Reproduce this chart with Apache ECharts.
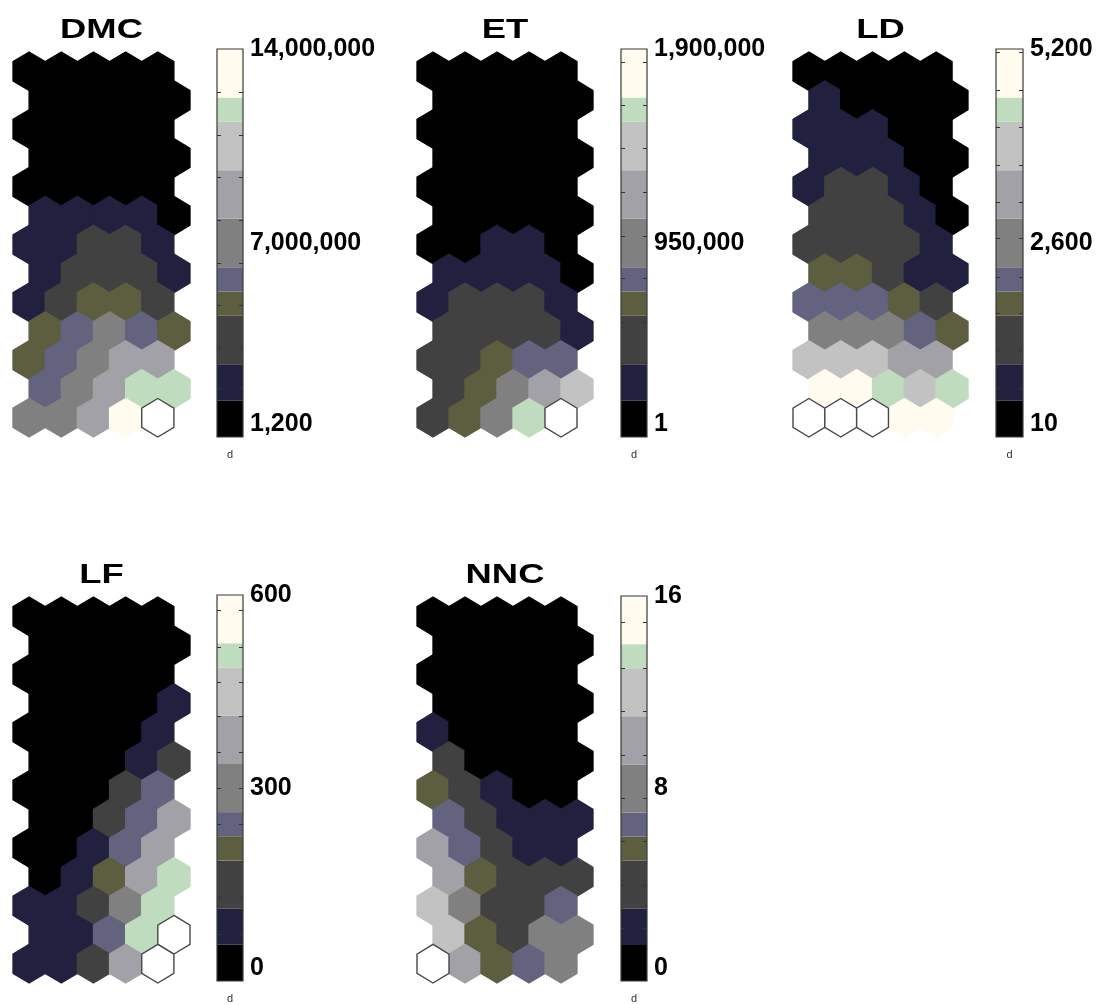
<!DOCTYPE html>
<html><head><meta charset="utf-8">
<script src="https://cdn.jsdelivr.net/npm/echarts@6/dist/echarts.min.js"></script>
<style>html,body{margin:0;padding:0;background:#fff}#c{width:1104px;height:1005px}</style>
</head><body><div id="c"></div>
<script>
const FONT = "'Liberation Sans', Arial, Helvetica, sans-serif";

// ---- component-plane names ----
const panelNames = ['DMC', 'ET', 'LD', 'LF', 'NNC'];

// ---- colorbar ranges, tick values and tick labels ----
const dmcRange = [1200, 14000000];
const etRange = [1, 1900000];
const ldRange = [10, 5200];
const lfRange = [0, 600];
const nncRange = [0, 16];

const dmcLabelValues = [1200, 7000000, 14000000];
const dmcLabels = ['1,200', '7,000,000', '14,000,000'];
const etLabelValues = [1, 950000, 1900000];
const etLabels = ['1', '950,000', '1,900,000'];
const ldLabelValues = [10, 2600, 5200];
const ldLabels = ['10', '2,600', '5,200'];
const lfLabelValues = [0, 300, 600];
const lfLabels = ['0', '300', '600'];
const nncLabelValues = [0, 8, 16];
const nncLabels = ['0', '8', '16'];

const dmcTicks = [1770000, 3250000, 4760000, 6270000, 7830000, 9380000, 10900000, 12450000];
const etTicks = [363000, 562000, 779000, 984000, 1199000, 1416000, 1626000, 1836000];
const ldTicks = [664, 1173, 1671, 2148, 2672, 3155, 3648, 4157, 4650, 5160];
const lfTicks = [73, 130, 186, 243, 300, 355, 411, 465, 519, 577];
const nncTicks = [2.2, 4.0, 5.8, 7.6, 9.4, 11.2, 13.0, 14.9];

// ---- unit values of the 13 x 5 hexagonal maps (row 0 = top, odd rows shifted right) ----
const dmcValues = [
  [650000, 650000, 650000, 650000, 650000],
  [650000, 650000, 650000, 650000, 650000],
  [650000, 650000, 650000, 650000, 650000],
  [650000, 650000, 650000, 650000, 650000],
  [650000, 650000, 650000, 650000, 650000],
  [2000000, 2000000, 2000000, 2000000, 650000],
  [2000000, 2000000, 3500000, 3500000, 2000000],
  [2000000, 3500000, 3500000, 3500000, 2000000],
  [2000000, 3500000, 4800000, 4800000, 3500000],
  [4800000, 5700000, 7000000, 5700000, 4800000],
  [4800000, 5700000, 7000000, 8750000, 8750000],
  [5700000, 7000000, 8750000, 11800000, 11800000],
  [7000000, 7000000, 8750000, 13100000, 14000000]
];
const etValues = [
  [90000, 90000, 90000, 90000, 90000],
  [90000, 90000, 90000, 90000, 90000],
  [90000, 90000, 90000, 90000, 90000],
  [90000, 90000, 90000, 90000, 90000],
  [90000, 90000, 90000, 90000, 90000],
  [90000, 90000, 90000, 90000, 90000],
  [90000, 90000, 270000, 270000, 90000],
  [270000, 270000, 270000, 270000, 90000],
  [270000, 475000, 475000, 475000, 270000],
  [475000, 475000, 475000, 475000, 270000],
  [475000, 475000, 650000, 770000, 770000],
  [475000, 650000, 950000, 1190000, 1420000],
  [475000, 650000, 950000, 1600000, 1900000]
];
const ldValues = [
  [250, 250, 250, 250, 250],
  [740, 250, 250, 250, 250],
  [740, 740, 740, 250, 250],
  [740, 740, 740, 250, 250],
  [740, 1300, 1300, 740, 250],
  [1300, 1300, 1300, 740, 250],
  [1300, 1300, 1300, 1300, 740],
  [1800, 1800, 1300, 740, 740],
  [2100, 2100, 2100, 1800, 1300],
  [2600, 2600, 2600, 2100, 1800],
  [3900, 3900, 3900, 3250, 3250],
  [4870, 4870, 4390, 3900, 4390],
  [5200, 5200, 5200, 4870, 4870]
];
const lfValues = [
  [28, 28, 28, 28, 28],
  [28, 28, 28, 28, 28],
  [28, 28, 28, 28, 28],
  [28, 28, 28, 28, 84],
  [28, 28, 28, 28, 84],
  [28, 28, 28, 84, 150],
  [28, 28, 28, 150, 244],
  [28, 28, 150, 244, 375],
  [28, 28, 84, 244, 375],
  [28, 84, 206, 375, 506],
  [84, 84, 150, 300, 506],
  [84, 84, 244, 506, 600],
  [84, 84, 150, 375, 600]
];
const nncValues = [
  [0.75, 0.75, 0.75, 0.75, 0.75],
  [0.75, 0.75, 0.75, 0.75, 0.75],
  [0.75, 0.75, 0.75, 0.75, 0.75],
  [0.75, 0.75, 0.75, 0.75, 0.75],
  [2.25, 0.75, 0.75, 0.75, 0.75],
  [4, 0.75, 0.75, 0.75, 0.75],
  [5.5, 4, 2.25, 0.75, 0.75],
  [6.5, 4, 2.25, 2.25, 2.25],
  [10, 6.5, 4, 2.25, 2.25],
  [10, 5.5, 4, 4, 4],
  [12, 8, 4, 4, 6.5],
  [12, 5.5, 4, 8, 8],
  [16, 10, 5.5, 6.5, 8]
];

// ---- colormap (positions in sixteenths of the range) ----
const cmapStops = [0, 1.5, 3, 5, 6, 7, 9, 11, 13, 14, 16];
const cmapColors = ['#000000', '#21213f', '#414141', '#5d5d40', '#63637f', '#808080', '#a1a1a7', '#c2c2c2', '#bfdcbf', '#fffbef'];

function colorOf(v, lo, hi) {
  const f = (v - lo) / (hi - lo) * 16;
  if (f >= 15.95) return null;
  for (let i = 0; i < cmapColors.length; i++) if (f < cmapStops[i + 1]) return cmapColors[i];
  return cmapColors[cmapColors.length - 1];
}

// ---- layout (pixels) ----
const panels = [
  { name: panelNames[0], values: dmcValues, range: dmcRange, ticks: dmcTicks, lv: dmcLabelValues, lt: dmcLabels, hex: [13, 52, 177, 385], cb: [217, 49, 26, 388], ty: 30 },
  { name: panelNames[1], values: etValues, range: etRange, ticks: etTicks, lv: etLabelValues, lt: etLabels, hex: [417, 52, 176, 385], cb: [621, 49, 26, 388], ty: 30 },
  { name: panelNames[2], values: ldValues, range: ldRange, ticks: ldTicks, lv: ldLabelValues, lt: ldLabels, hex: [793, 52, 175, 385], cb: [996, 49, 27, 388], ty: 30 },
  { name: panelNames[3], values: lfValues, range: lfRange, ticks: lfTicks, lv: lfLabelValues, lt: lfLabels, hex: [13, 597, 177, 386], cb: [217, 595, 26, 387], ty: 575 },
  { name: panelNames[4], values: nncValues, range: nncRange, ticks: nncTicks, lv: nncLabelValues, lt: nncLabels, hex: [417, 597, 176, 386], cb: [621, 596, 26, 387], ty: 575 }
];

const grid = [], xAxis = [], yAxis = [], series = [], graphic = [];

panels.forEach(p => {
  const lo = p.range[0], hi = p.range[1];
  // hex map
  const gH = grid.length;
  grid.push({ left: p.hex[0], top: p.hex[1], width: p.hex[2], height: p.hex[3] });
  const xH = xAxis.length;
  xAxis.push({ gridIndex: gH, type: 'value', min: 0, max: 5.5, show: false });
  const yH = yAxis.length;
  yAxis.push({ gridIndex: gH, type: 'value', min: -2 / 3, max: 12 + 2 / 3, inverse: true, show: false });
  const hexData = [];
  p.values.forEach((row, r) => row.forEach((v, c) => hexData.push([c, r, v])));
  series.push({
    type: 'custom', xAxisIndex: xH, yAxisIndex: yH, data: hexData, silent: true, animation: false,
    renderItem: (params, api) => {
      const c = api.value(0), r = api.value(1), v = api.value(2);
      const cx = c + 0.5 + (r % 2) * 0.5, cy = r;
      const pts = [[cx, cy - 2 / 3], [cx + 0.5, cy - 1 / 3], [cx + 0.5, cy + 1 / 3], [cx, cy + 2 / 3], [cx - 0.5, cy + 1 / 3], [cx - 0.5, cy - 1 / 3]].map(q => api.coord(q));
      const col = colorOf(v, lo, hi);
      if (col === null) return { type: 'polygon', z2: 10, shape: { points: pts }, style: { fill: '#ffffff', stroke: '#484848', lineWidth: 1.4 } };
      return { type: 'polygon', shape: { points: pts }, style: { fill: col, stroke: col, lineWidth: 1.3, lineJoin: 'round' } };
    }
  });
  // title
  graphic.push({
    type: 'text', x: p.hex[0] + p.hex[2] / 2, y: p.ty, scaleX: 1.3, scaleY: 1,
    style: { text: p.name, align: 'center', verticalAlign: 'middle', fill: '#000', font: 'bold 28px ' + FONT }
  });
  // colorbar
  const gC = grid.length;
  grid.push({ left: p.cb[0], top: p.cb[1], width: p.cb[2], height: p.cb[3] });
  const xC = xAxis.length;
  xAxis.push({
    gridIndex: gC, type: 'value', min: 0, max: 1, position: 'bottom',
    name: 'd', nameLocation: 'middle', nameGap: 12,
    nameTextStyle: { fontSize: 11, color: '#333', fontFamily: FONT },
    axisLine: { show: false }, axisTick: { show: false }, axisLabel: { show: false }, splitLine: { show: false }
  });
  const yL = yAxis.length;
  yAxis.push({
    gridIndex: gC, type: 'value', min: lo, max: hi, position: 'left', z: 5,
    axisLine: { show: false }, axisLabel: { show: false }, splitLine: { show: false },
    axisTick: { show: true, inside: true, length: 4, customValues: p.ticks, lineStyle: { color: '#333', width: 1 } }
  });
  yAxis.push({
    gridIndex: gC, type: 'value', min: lo, max: hi, position: 'right', z: 5,
    axisLine: { show: false }, splitLine: { show: false },
    axisTick: { show: true, inside: true, length: 4, customValues: p.ticks, lineStyle: { color: '#333', width: 1 } },
    axisLabel: {
      show: true, customValues: p.lv, margin: 7, color: '#000', fontSize: 25, fontWeight: 'bold', fontFamily: FONT,
      padding: [8, 0, 0, 0],
      verticalAlignMinLabel: 'bottom', verticalAlignMaxLabel: 'middle',
      formatter: v => { let k = 0, d = Infinity; p.lv.forEach((x, i) => { if (Math.abs(x - v) < d) { d = Math.abs(x - v); k = i; } }); return p.lt[k]; }
    }
  });
  const bandData = cmapColors.map((c, i) => [0.5, i]);
  series.push({
    type: 'custom', xAxisIndex: xC, yAxisIndex: yL, data: bandData, silent: true, animation: false, z: 1,
    renderItem: (params, api) => {
      const i = api.value(1);
      const v0 = lo + cmapStops[i] / 16 * (hi - lo), v1 = lo + cmapStops[i + 1] / 16 * (hi - lo);
      const a = api.coord([0, v0]), b = api.coord([1, v1]);
      return { type: 'rect', shape: { x: a[0], y: b[1], width: b[0] - a[0], height: a[1] - b[1] }, style: { fill: cmapColors[i] } };
    }
  });
  series.push({
    type: 'custom', xAxisIndex: xC, yAxisIndex: yL, data: [[0.5, 0]], silent: true, animation: false, z: 6,
    renderItem: (params, api) => {
      const a = api.coord([0, lo]), b = api.coord([1, hi]);
      return { type: 'rect', shape: { x: a[0], y: b[1], width: b[0] - a[0], height: a[1] - b[1] }, style: { fill: 'none', stroke: '#3a3a3a', lineWidth: 1.2 } };
    }
  });
});

const chart = echarts.init(document.getElementById('c'), null, { renderer: 'canvas' });
chart.setOption({ backgroundColor: '#ffffff', animation: false, grid, xAxis, yAxis, series, graphic });
</script>
</body></html>
